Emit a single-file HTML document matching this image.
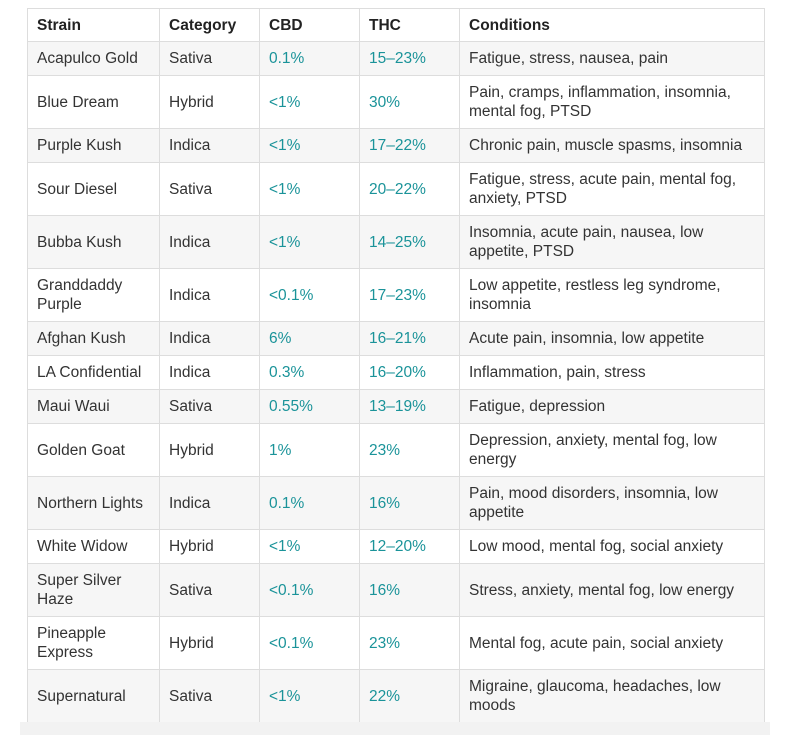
<!DOCTYPE html>
<html><head><style>
html,body{margin:0;padding:0;background:#fff;width:789px;height:735px;overflow:hidden}
body{font-family:"Liberation Sans",sans-serif;font-size:15.5px;color:#333}
table{position:absolute;left:27px;top:8px;width:737px;border-collapse:collapse;table-layout:fixed}
td,th{border:1px solid #ddd;padding:0 9px;text-align:left;vertical-align:middle;line-height:19px}
th{height:32px;font-weight:bold;color:#222}
tr.s td{height:33px}
tr.d td{height:52px}
tr:nth-child(even) td{background:#f6f6f6}
td.t{color:#1a9399}
.strip{position:absolute;left:20px;top:722px;width:750px;height:13px;background:#f2f2f2}
</style></head><body>
<table>
<colgroup><col style="width:132px"><col style="width:100px"><col style="width:100px"><col style="width:100px"><col style="width:305px"></colgroup>
<tr><th>Strain</th><th>Category</th><th>CBD</th><th>THC</th><th>Conditions</th></tr>
<tr class="s"><td>Acapulco Gold</td><td>Sativa</td><td class="t">0.1%</td><td class="t">15–23%</td><td>Fatigue, stress, nausea, pain</td></tr>
<tr class="d"><td>Blue Dream</td><td>Hybrid</td><td class="t">&lt;1%</td><td class="t">30%</td><td>Pain, cramps, inflammation, insomnia, mental fog, PTSD</td></tr>
<tr class="s"><td>Purple Kush</td><td>Indica</td><td class="t">&lt;1%</td><td class="t">17–22%</td><td>Chronic pain, muscle spasms, insomnia</td></tr>
<tr class="d"><td>Sour Diesel</td><td>Sativa</td><td class="t">&lt;1%</td><td class="t">20–22%</td><td>Fatigue, stress, acute pain, mental fog, anxiety, PTSD</td></tr>
<tr class="d"><td>Bubba Kush</td><td>Indica</td><td class="t">&lt;1%</td><td class="t">14–25%</td><td>Insomnia, acute pain, nausea, low appetite, PTSD</td></tr>
<tr class="d"><td>Granddaddy Purple</td><td>Indica</td><td class="t">&lt;0.1%</td><td class="t">17–23%</td><td>Low appetite, restless leg syndrome, insomnia</td></tr>
<tr class="s"><td>Afghan Kush</td><td>Indica</td><td class="t">6%</td><td class="t">16–21%</td><td>Acute pain, insomnia, low appetite</td></tr>
<tr class="s"><td>LA Confidential</td><td>Indica</td><td class="t">0.3%</td><td class="t">16–20%</td><td>Inflammation, pain, stress</td></tr>
<tr class="s"><td>Maui Waui</td><td>Sativa</td><td class="t">0.55%</td><td class="t">13–19%</td><td>Fatigue, depression</td></tr>
<tr class="d"><td>Golden Goat</td><td>Hybrid</td><td class="t">1%</td><td class="t">23%</td><td>Depression, anxiety, mental fog, low<br>energy</td></tr>
<tr class="d"><td>Northern Lights</td><td>Indica</td><td class="t">0.1%</td><td class="t">16%</td><td>Pain, mood disorders, insomnia, low<br>appetite</td></tr>
<tr class="s"><td>White Widow</td><td>Hybrid</td><td class="t">&lt;1%</td><td class="t">12–20%</td><td>Low mood, mental fog, social anxiety</td></tr>
<tr class="d"><td>Super Silver Haze</td><td>Sativa</td><td class="t">&lt;0.1%</td><td class="t">16%</td><td>Stress, anxiety, mental fog, low energy</td></tr>
<tr class="d"><td>Pineapple Express</td><td>Hybrid</td><td class="t">&lt;0.1%</td><td class="t">23%</td><td>Mental fog, acute pain, social anxiety</td></tr>
<tr class="d"><td>Supernatural</td><td>Sativa</td><td class="t">&lt;1%</td><td class="t">22%</td><td>Migraine, glaucoma, headaches, low<br>moods</td></tr>
</table>
<div class="strip"></div>
</body></html>
